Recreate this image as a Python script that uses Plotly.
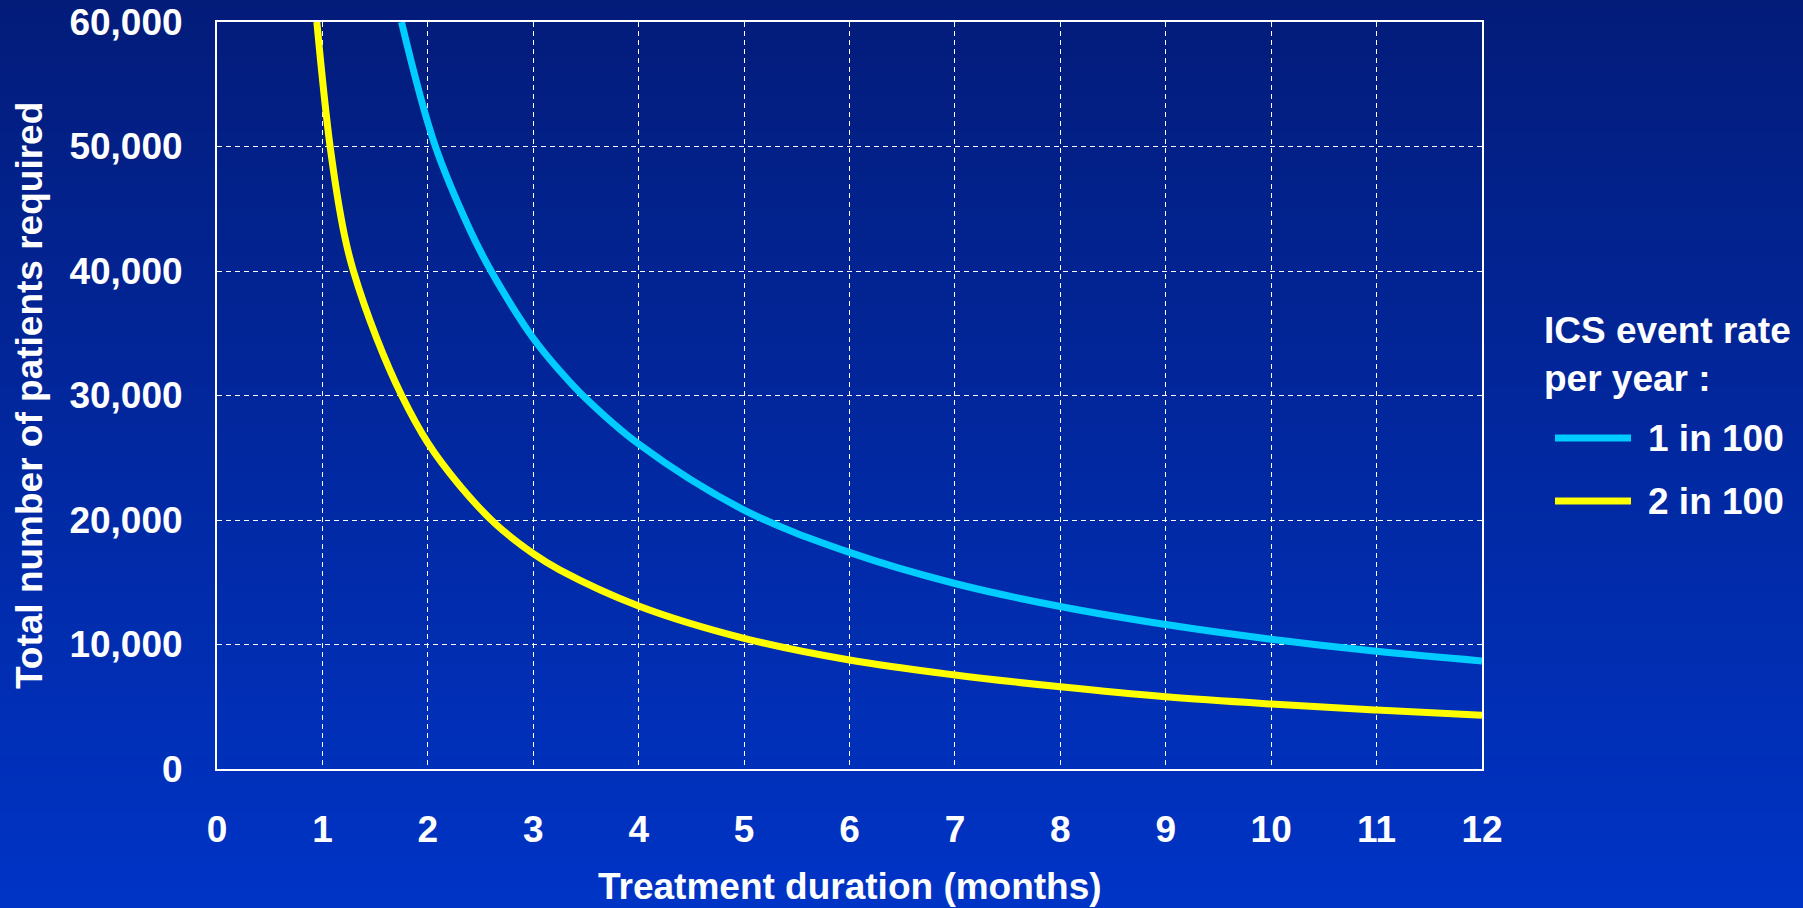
import plotly.graph_objects as go

# ---- data ----
months_1in100 = [1.75, 2.06, 2.40, 2.6, 3.0, 3.25, 3.47, 4, 5, 6, 7, 8, 9, 10, 11, 12]
patients_1in100 = [60000, 50300, 43300, 40000, 34600, 32000, 30000, 26100, 20800, 17400,
                   14900, 13050, 11600, 10420, 9450, 8680]
months_2in100 = [0.947, 1.073, 1.206, 1.294, 1.515, 1.752, 2.0, 2.30, 2.64, 3, 3.25, 4, 5,
                 6, 7, 8, 9, 10, 11, 12]
patients_2in100 = [60000, 50000, 43000, 40000, 34600, 30000, 26200, 22800, 19700, 17300,
                   16000, 13100, 10500, 8750, 7550, 6600, 5800, 5220, 4740, 4310]
series_names = ["1 in 100", "2 in 100"]
x_ticks = list(range(0, 13))
y_ticks = [0, 10000, 20000, 30000, 40000, 50000, 60000]
legend_title = "ICS event rate<br>per year :"
x_title = "Treatment duration (months)"
y_title = "Total number of patients required"

# ---- layout constants (pixels) ----
W, H = 1803, 908
L, R, T, B = 217, 1482, 22, 769
FONT = "Liberation Sans, Arial, sans-serif"
FS = 37
CYAN = "#00CCFF"
YELLOW = "#FFFF00"


def px_x(p):
    return (p - L) / (R - L)


def px_y(p):
    return (B - p) / (B - T)


fig = go.Figure()
fig.add_trace(go.Scatter(x=months_1in100, y=patients_1in100, mode="lines",
                         name=series_names[0],
                         line=dict(color=CYAN, width=7, shape="spline", smoothing=1)))
fig.add_trace(go.Scatter(x=months_2in100, y=patients_2in100, mode="lines",
                         name=series_names[1],
                         line=dict(color=YELLOW, width=7, shape="spline", smoothing=1)))

# background gradient (dark navy at top -> brighter blue at bottom)
top_c = (3, 28, 122)
bot_c = (0, 52, 198)
shapes = []
step = 4
for y0 in range(0, H, step):
    f = (y0 + step / 2) / H
    c = tuple(round(top_c[i] + (bot_c[i] - top_c[i]) * f) for i in range(3))
    shapes.append(dict(type="rect", xref="paper", yref="paper", layer="below",
                       x0=px_x(-5), x1=px_x(W + 5),
                       y0=px_y(y0 - 0.5), y1=px_y(y0 + step + 0.5),
                       fillcolor="rgb(%d,%d,%d)" % c, line=dict(width=0)))

# custom legend lines
shapes.append(dict(type="line", xref="paper", yref="paper", layer="above",
                   x0=px_x(1555), x1=px_x(1631), y0=px_y(438), y1=px_y(438),
                   line=dict(color=CYAN, width=7)))
shapes.append(dict(type="line", xref="paper", yref="paper", layer="above",
                   x0=px_x(1555), x1=px_x(1631), y0=px_y(501), y1=px_y(501),
                   line=dict(color=YELLOW, width=7)))

bold = dict(family=FONT, size=FS, color="white", weight="bold")

annotations = [
    dict(text=legend_title, xref="paper", yref="paper", x=px_x(1542), y=px_y(354),
         xanchor="left", yanchor="middle", align="left", showarrow=False, font=bold),
    dict(text=series_names[0], xref="paper", yref="paper", x=px_x(1646), y=px_y(438),
         xanchor="left", yanchor="middle", showarrow=False, font=bold),
    dict(text=series_names[1], xref="paper", yref="paper", x=px_x(1646), y=px_y(501),
         xanchor="left", yanchor="middle", showarrow=False, font=bold),
    dict(text=x_title, xref="paper", yref="paper", x=px_x(850), y=px_y(886),
         xanchor="center", yanchor="middle", showarrow=False, font=bold),
    dict(text=y_title, xref="paper", yref="paper", x=px_x(29), y=px_y(396),
         xanchor="center", yanchor="middle", textangle=-90, showarrow=False, font=bold),
]

axis_common = dict(
    showgrid=True, gridcolor="white", gridwidth=1, griddash="5px,4px",
    showline=True, linecolor="white", linewidth=2, mirror=True,
    ticks="", zeroline=False,
    tickfont=dict(family=FONT, size=FS, color="white", weight="bold"),
)

fig.update_layout(
    width=W, height=H,
    margin=dict(l=L, r=W - R, t=T, b=H - B, autoexpand=False),
    paper_bgcolor="rgb(2,40,160)",
    plot_bgcolor="rgba(0,0,0,0)",
    showlegend=False,
    shapes=shapes,
    annotations=annotations,
    xaxis=dict(range=[0, 12], tickvals=x_ticks, ticktext=[str(v) for v in x_ticks],
               ticklabelstandoff=27, **axis_common),
    yaxis=dict(range=[0, 60000], tickvals=y_ticks,
               ticktext=["{:,}".format(v) for v in y_ticks],
               ticklabelstandoff=25, **axis_common),
)

fig.write_html(
    "out.html",
    config={"displayModeBar": False},
    post_script="document.body.style.margin='0';document.body.style.overflow='hidden';",
)
